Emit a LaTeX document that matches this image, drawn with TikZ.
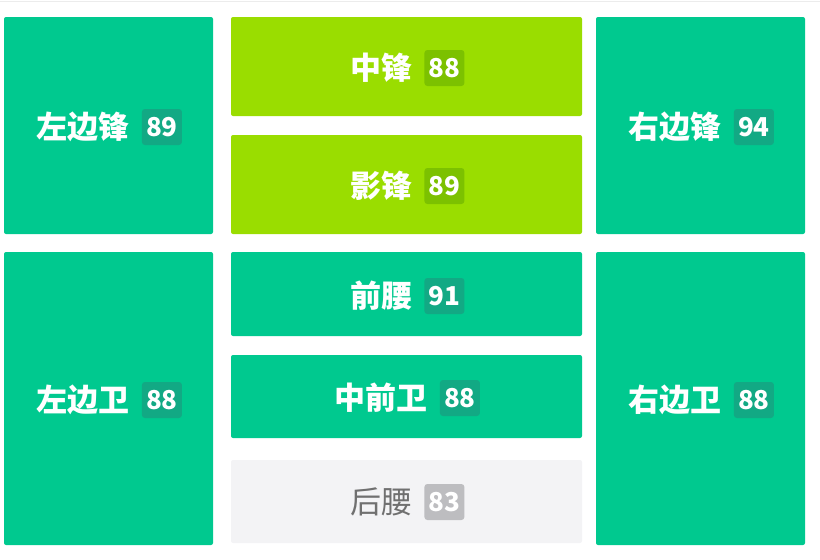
\documentclass[tikz,border=0pt]{standalone}
\usepackage{fontspec}
\setmainfont{Noto Sans CJK SC}
\usetikzlibrary{positioning}

\definecolor{pitchgreen}{HTML}{00C98F}
\definecolor{pitchgreendark}{HTML}{12A984}
\definecolor{pitchlime}{HTML}{9ADD00}
\definecolor{pitchlimedark}{HTML}{7CC100}
\definecolor{pitchgrey}{HTML}{F3F3F5}
\definecolor{pitchgreydark}{HTML}{BDBDC0}
\definecolor{pitchgreytext}{HTML}{707070}

\tikzset{
  posbox/.style={rectangle, rounded corners=2pt, inner sep=0pt},
  greenbox/.style={posbox, fill=pitchgreen},
  limebox/.style={posbox, fill=pitchlime},
  greybox/.style={posbox, fill=pitchgrey},
  posname/.style={inner sep=0pt, text=white, font=\fontsize{31}{31}\selectfont\bfseries},
  score/.style={rounded corners=3pt, inner sep=0pt, minimum width=40pt,
    minimum height=36pt, text=white, font=\fontsize{26}{26}\selectfont\bfseries},
  greenscore/.style={score, fill=pitchgreendark},
  limescore/.style={score, fill=pitchlimedark},
  greyscore/.style={score, fill=pitchgreydark}
}

\begin{document}
\begin{tikzpicture}[x=1pt, y=-1pt]
  \useasboundingbox (0,0) rectangle (820,560);
  \draw[gray!15] (0,1) -- (820,1);

  % wings and full-backs
  \node[greenbox, minimum width=209pt, minimum height=217pt] (lw) at (108.5,125.5) {};
  \node[greenbox, minimum width=209pt, minimum height=217pt] (rw) at (700.5,125.5) {};
  \node[greenbox, minimum width=209pt, minimum height=293pt] (lb) at (108.5,398.5) {};
  \node[greenbox, minimum width=209pt, minimum height=293pt] (rb) at (700.5,398.5) {};

  % centre column
  \node[limebox, minimum width=351pt, minimum height=99pt] (st) at (406.5,66.5) {};
  \node[limebox, minimum width=351pt, minimum height=99pt] (ss) at (406.5,184.5) {};
  \node[greenbox, minimum width=351pt, minimum height=84pt] (cam) at (406.5,294) {};
  \node[greenbox, minimum width=351pt, minimum height=83pt] (cm) at (406.5,396.5) {};
  \node[greybox, minimum width=351pt, minimum height=83pt] (cdm) at (406.5,501.5) {};

  % names and ratings
  \node[posname] (lwname) at (83,127) {左边锋};
  \node[greenscore, right=12pt of lwname] (lwscore) {89};
  \node[posname] (rwname) at (675,127) {右边锋};
  \node[greenscore, right=12pt of rwname] (rwscore) {94};
  \node[posname] (lbname) at (83,400) {左边卫};
  \node[greenscore, right=12pt of lbname] (lbscore) {88};
  \node[posname] (rbname) at (675,400) {右边卫};
  \node[greenscore, right=12pt of rbname] (rbscore) {88};

  \node[posname] (stname) at (381,68) {中锋};
  \node[limescore, right=12pt of stname] (stscore) {88};
  \node[posname] (ssname) at (381,186) {影锋};
  \node[limescore, right=12pt of ssname] (ssscore) {89};
  \node[posname] (camname) at (381,296) {前腰};
  \node[greenscore, right=12pt of camname] (camscore) {91};
  \node[posname] (cmname) at (381,398) {中前卫};
  \node[greenscore, right=12pt of cmname] (cmscore) {88};
  \node[posname, text=pitchgreytext, font=\fontsize{31}{31}\selectfont] (cdmname) at (381,502) {后腰};
  \node[greyscore, right=12pt of cdmname] (cdmscore) {83};
\end{tikzpicture}
\end{document}
